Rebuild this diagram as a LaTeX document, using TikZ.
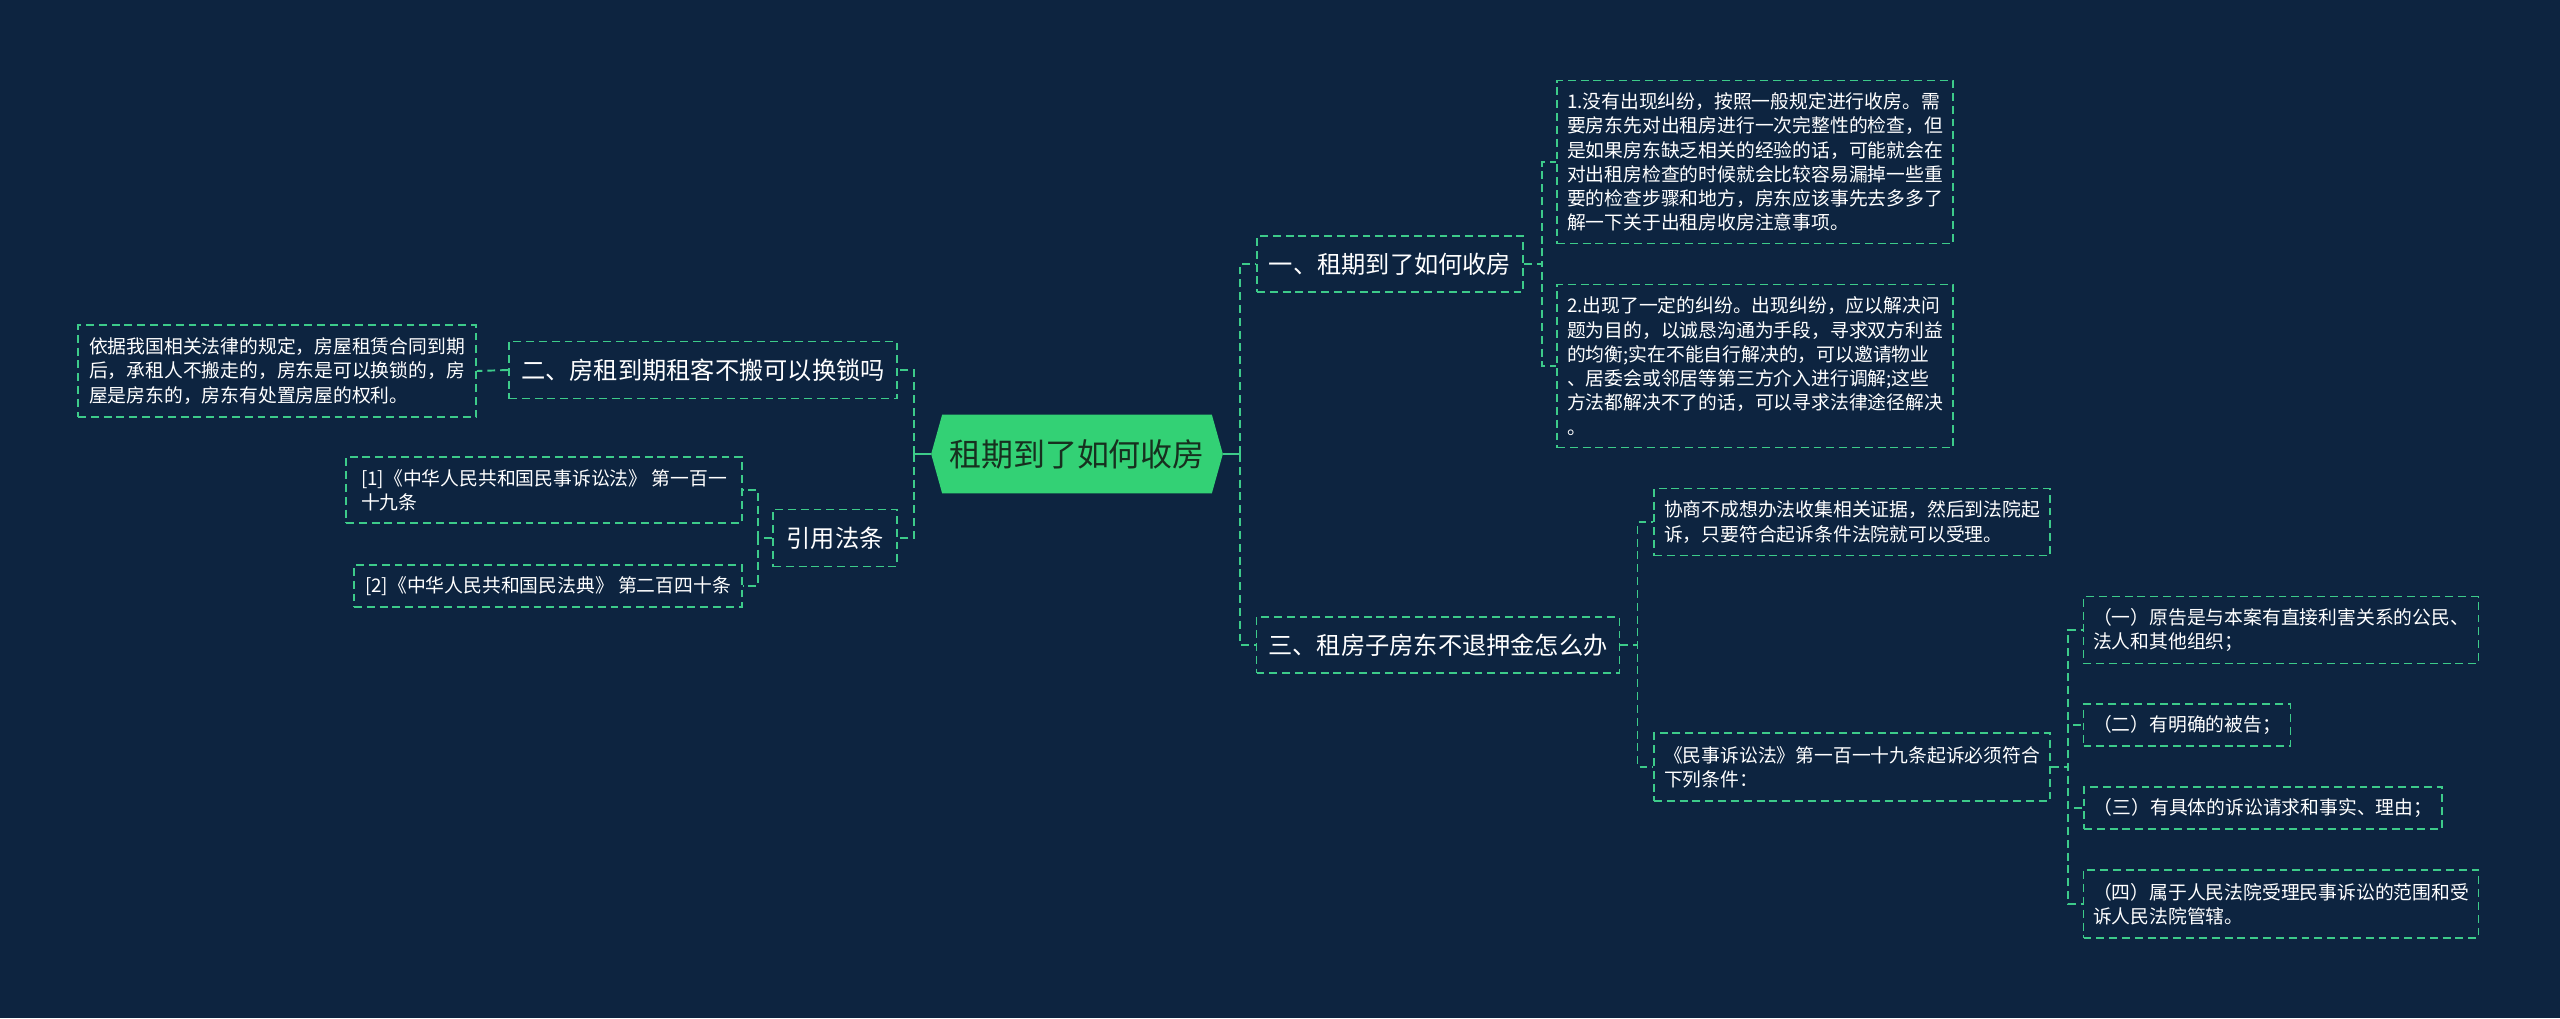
\documentclass[tikz,border=0pt]{standalone}
\usepackage{fontspec}
\setmainfont{Noto Sans CJK SC}
\usepackage{tikz}
\usetikzlibrary{calc,backgrounds}
\usepackage{xcolor}
\definecolor{DeepNavy}{HTML}{0D2440}
\definecolor{BranchGreen}{HTML}{3DCB8A}
\definecolor{RootGreen}{HTML}{33D175}
\definecolor{RootText}{HTML}{17301F}

\begin{document}
\begin{tikzpicture}[x=0.02cm,y=-0.02cm,
    boxsize/.style 2 args={minimum width=#1*0.02cm,minimum height=#2*0.02cm},
    box/.style={draw=BranchGreen,line width=1.1pt,dash pattern=on 4.5pt off 2.8pt,text=white,inner sep=0pt,align=left},
    leaf/.style={box,font=\fontsize{10.7pt}{13.8pt}\selectfont},
    topic/.style={box,font=\fontsize{13.8pt}{16pt}\selectfont},
    link/.style={BranchGreen,line width=1.1pt,dash pattern=on 4.5pt off 2.8pt},
    stub/.style={BranchGreen,line width=1.1pt}]
				% 背景
				\useasboundingbox (0,0) rectangle (2560,1018);
				% 中心主题
				\node[boxsize={291}{78},inner sep=0pt,text=RootText,font=\fontsize{18.2pt}{20pt}\selectfont] (root) at (1077,454) {租期到了如何收房};
				\begin{pgfonlayer}{background}
				\fill[DeepNavy] (0,0) rectangle (2560,1018);
				\fill[RootGreen] (root.west) -- ($(root.north west)+(11,0)$) -- ($(root.north east)+(-11,0)$) -- (root.east)
				  -- ($(root.south east)+(-11,0)$) -- ($(root.south west)+(11,0)$) -- cycle;
				\end{pgfonlayer}
				% 左侧分支
				\node[topic,boxsize={388}{57}] (er) at (703,370) {二、房租到期租客不搬可以换锁吗};
				\node[leaf,boxsize={398}{92}] (erleaf) at (277,371) {依据我国相关法律的规定，房屋租赁合同到期\\后，承租人不搬走的，房东是可以换锁的，房\\屋是房东的，房东有处置房屋的权利。};
				\node[topic,boxsize={124}{57}] (yinyong) at (835,538) {引用法条};
				\node[leaf,boxsize={396}{66}] (fa1) at (544,490) {[1]《中华人民共和国民事诉讼法》 第一百一\\十九条};
				\node[leaf,boxsize={388}{42}] (fa2) at (548,586) {[2]《中华人民共和国民法典》 第二百四十条};
				% 右侧分支
				\node[topic,boxsize={266}{56}] (yi) at (1390,264) {一、租期到了如何收房};
				\node[leaf,boxsize={396}{163}] (yileafa) at (1755,162) {1.没有出现纠纷，按照一般规定进行收房。需\\要房东先对出租房进行一次完整性的检查，但\\是如果房东缺乏相关的经验的话，可能就会在\\对出租房检查的时候就会比较容易漏掉一些重\\要的检查步骤和地方，房东应该事先去多多了\\解一下关于出租房收房注意事项。};
				\node[leaf,boxsize={396}{163}] (yileafb) at (1755,366) {2.出现了一定的纠纷。出现纠纷，应以解决问\\题为目的，以诚恳沟通为手段，寻求双方利益\\的均衡;实在不能自行解决的，可以邀请物业\\、居委会或邻居等第三方介入进行调解;这些\\方法都解决不了的话，可以寻求法律途径解决\\。};
				\node[topic,boxsize={363}{56}] (san) at (1438,645) {三、租房子房东不退押金怎么办};
				\node[leaf,boxsize={396}{67}] (sanleafa) at (1852,522) {协商不成想办法收集相关证据，然后到法院起\\诉，只要符合起诉条件法院就可以受理。};
				\node[leaf,boxsize={396}{68}] (sanleafb) at (1852,767) {《民事诉讼法》第一百一十九条起诉必须符合\\下列条件：};
				\node[leaf,boxsize={395}{67}] (tiaoa) at (2281,630) {（一）原告是与本案有直接利害关系的公民、\\法人和其他组织；};
				\node[leaf,boxsize={207}{42}] (tiaob) at (2187,725) {（二）有明确的被告；};
				\node[leaf,boxsize={358}{42}] (tiaoc) at (2263,808) {（三）有具体的诉讼请求和事实、理由；};
				\node[leaf,boxsize={395}{68}] (tiaod) at (2281,904) {（四）属于人民法院受理民事诉讼的范围和受\\诉人民法院管辖。};
				% 连线
				\draw[stub] (root.west) -- ++(-17,0);
				\draw[link] (root.west) ++(-17,0) |- (er.east);
				\draw[link] (root.west) ++(-17,0) |- (yinyong.east);
				\draw[link] (er.west) -- (erleaf.east);
				\draw[link] (yinyong.west) -- ++(-14,0) |- (fa1.east);
				\draw[link] (yinyong.west) -- ++(-14,0) |- (fa2.east);
				\draw[stub] (root.east) -- ++(17,0);
				\draw[link] (root.east) ++(17,0) |- (yi.west);
				\draw[link] (root.east) ++(17,0) |- (san.west);
				\draw[link] (yi.east) -- ++(18,0) |- (yileafa.west);
				\draw[link] (yi.east) -- ++(18,0) |- (yileafb.west);
				\draw[link] (san.east) -- ++(17,0) |- (sanleafa.west);
				\draw[link] (san.east) -- ++(17,0) |- (sanleafb.west);
				\draw[link] (sanleafb.east) -- ++(17,0) |- (tiaoa.west);
				\draw[link] (sanleafb.east) -- ++(17,0) |- (tiaob.west);
				\draw[link] (sanleafb.east) -- ++(17,0) |- (tiaoc.west);
				\draw[link] (sanleafb.east) -- ++(17,0) |- (tiaod.west);
\end{tikzpicture}
\end{document}
